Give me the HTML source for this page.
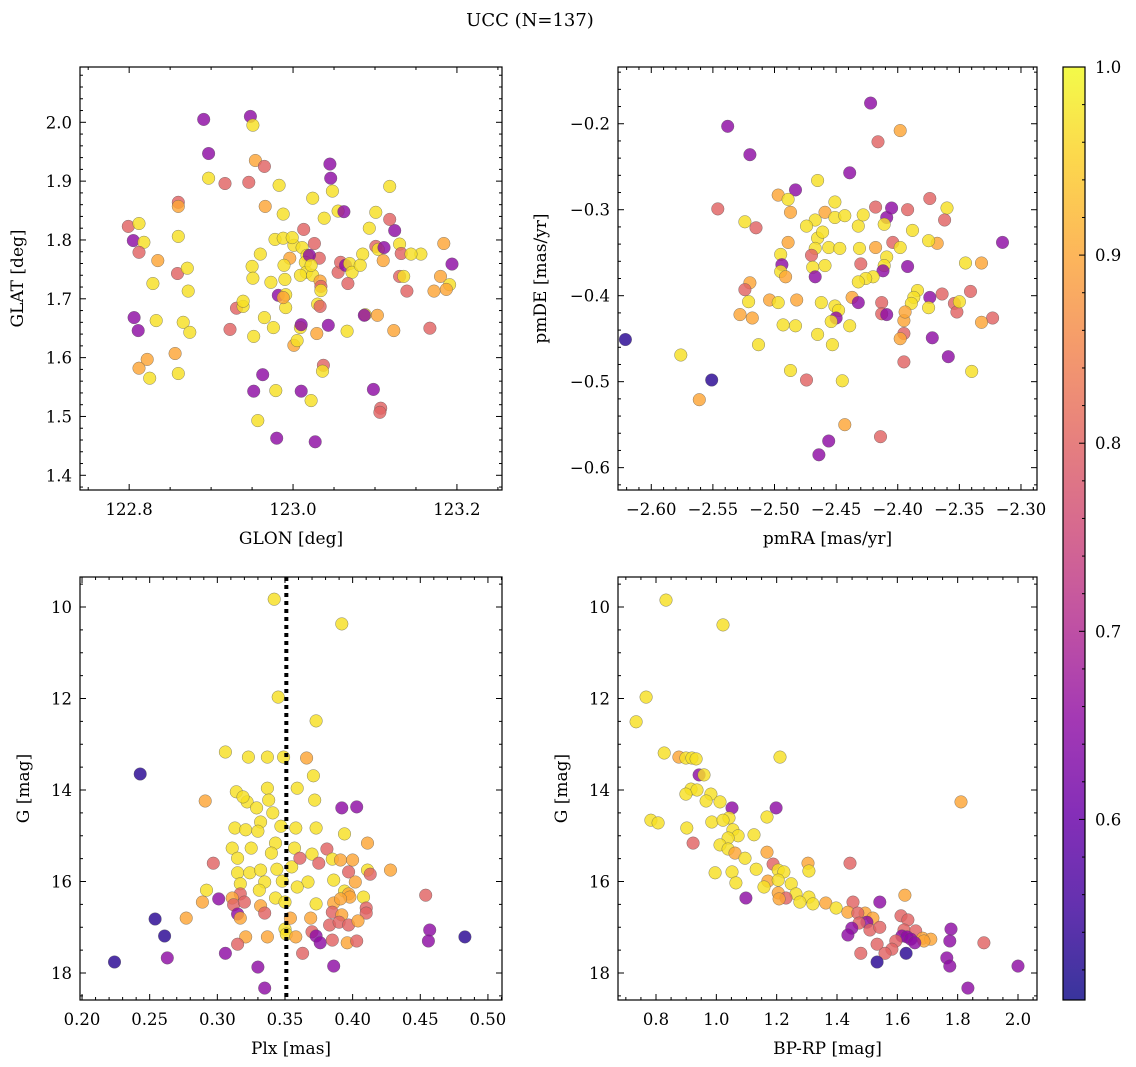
<!DOCTYPE html>
<html><head><meta charset="utf-8"><style>
html,body{margin:0;padding:0;background:#fff;}
svg{display:block;font-family:"DejaVu Serif","Liberation Serif",serif;}
</style></head><body>
<svg id="fig" width="1136" height="1067" viewBox="0 0 1136 1067" xmlns="http://www.w3.org/2000/svg">
<text x="530" y="26" font-size="18" text-anchor="middle">UCC (N=137)</text>
</svg>
<script>
// ---- data (0.97 yellow, 0.9 orange, 0.8 pink, 0.65 purple, 0.53 dark blue) ----
const glonVals=[122.948,122.951,122.891,122.897,122.954,122.965,122.917,122.946,122.897,122.983,123.045,123.046,123.048,123.024,123.118,122.966,122.860,122.860,122.860,122.799,122.812,122.805,122.818,122.812,122.835,122.829,122.859,122.871,122.872,122.806,122.833,122.811,122.866,122.874,122.822,122.856,122.812,122.825,122.860,122.923,122.931,122.939,122.939,122.950,122.951,122.960,122.978,122.973,122.965,122.976,122.952,122.963,122.952,122.979,122.957,122.980,123.027,123.010,123.022,122.988,122.988,123.001,122.999,122.996,122.989,122.990,122.982,122.991,122.991,122.988,123.009,123.001,123.005,123.010,123.013,123.011,123.017,123.015,123.016,123.009,123.024,123.026,123.032,123.020,123.022,123.033,123.034,123.030,123.033,123.029,123.037,123.036,123.034,123.038,123.055,123.062,123.055,123.058,123.064,123.069,123.072,123.067,123.085,123.082,123.088,123.066,123.043,123.087,123.103,123.093,123.101,123.104,123.110,123.111,123.098,123.107,123.106,123.124,123.118,123.101,123.130,123.132,123.130,123.135,123.139,123.123,123.184,123.180,123.156,123.144,123.172,123.167,123.191,123.194,123.187];
const glatVals=[2.010,1.995,2.005,1.947,1.935,1.925,1.896,1.898,1.905,1.893,1.929,1.905,1.883,1.871,1.891,1.857,1.864,1.857,1.806,1.823,1.828,1.799,1.796,1.779,1.765,1.726,1.743,1.752,1.713,1.668,1.663,1.646,1.660,1.643,1.597,1.607,1.582,1.565,1.573,1.648,1.684,1.687,1.696,1.755,1.735,1.776,1.801,1.728,1.668,1.651,1.636,1.571,1.543,1.544,1.493,1.463,1.457,1.543,1.527,1.844,1.803,1.791,1.804,1.769,1.757,1.733,1.706,1.707,1.685,1.702,1.651,1.621,1.629,1.656,1.818,1.787,1.774,1.762,1.745,1.740,1.740,1.794,1.769,1.774,1.757,1.730,1.721,1.691,1.687,1.641,1.587,1.577,1.714,1.837,1.849,1.848,1.745,1.762,1.757,1.760,1.745,1.726,1.776,1.757,1.673,1.645,1.655,1.672,1.672,1.820,1.789,1.784,1.765,1.787,1.546,1.514,1.507,1.816,1.835,1.847,1.793,1.777,1.738,1.738,1.713,1.646,1.794,1.738,1.776,1.776,1.713,1.650,1.724,1.759,1.716];
const posColor=[.65,.97,.65,.65,.9,.8,.8,.8,.97,.97,.65,.65,.97,.97,.97,.9,.8,.9,.97,.8,.97,.65,.97,.8,.9,.97,.8,.97,.97,.65,.97,.65,.97,.97,.9,.9,.9,.97,.97,.8,.8,.97,.97,.97,.97,.97,.97,.97,.97,.97,.97,.65,.65,.97,.97,.65,.65,.65,.97,.97,.97,.97,.97,.9,.97,.97,.65,.97,.97,.9,.97,.9,.97,.65,.8,.97,.97,.97,.97,.97,.97,.8,.8,.65,.97,.9,.8,.97,.8,.9,.8,.97,.97,.97,.97,.65,.8,.8,.65,.97,.97,.8,.97,.97,.97,.97,.65,.65,.9,.97,.8,.97,.9,.65,.65,.8,.8,.65,.8,.97,.97,.8,.8,.97,.8,.9,.9,.9,.97,.97,.9,.8,.97,.65,.9];

const pmraVals=[-2.422,-2.538,-2.416,-2.520,-2.398,-2.439,-2.465,-2.483,-2.546,-2.497,-2.489,-2.524,-2.515,-2.451,-2.459,-2.467,-2.487,-2.474,-2.451,-2.443,-2.432,-2.428,-2.418,-2.409,-2.405,-2.392,-2.411,-2.374,-2.360,-2.362,-2.315,-2.368,-2.375,-2.388,-2.465,-2.489,-2.495,-2.461,-2.467,-2.470,-2.456,-2.447,-2.431,-2.418,-2.404,-2.398,-2.494,-2.495,-2.491,-2.520,-2.524,-2.469,-2.459,-2.467,-2.430,-2.409,-2.411,-2.412,-2.420,-2.426,-2.432,-2.392,-2.345,-2.332,-2.341,-2.354,-2.364,-2.384,-2.387,-2.374,-2.375,-2.389,-2.352,-2.323,-2.332,-2.350,-2.521,-2.504,-2.518,-2.528,-2.482,-2.497,-2.462,-2.451,-2.448,-2.437,-2.432,-2.450,-2.413,-2.413,-2.409,-2.395,-2.395,-2.398,-2.394,-2.439,-2.454,-2.465,-2.453,-2.493,-2.483,-2.513,-2.621,-2.576,-2.551,-2.487,-2.474,-2.445,-2.395,-2.372,-2.359,-2.340,-2.561,-2.443,-2.456,-2.464,-2.414];
const pmdeVals=[-0.176,-0.203,-0.221,-0.236,-0.208,-0.257,-0.266,-0.277,-0.299,-0.283,-0.288,-0.314,-0.321,-0.291,-0.303,-0.312,-0.303,-0.319,-0.309,-0.307,-0.319,-0.306,-0.297,-0.309,-0.298,-0.300,-0.317,-0.287,-0.298,-0.312,-0.338,-0.339,-0.336,-0.324,-0.333,-0.338,-0.352,-0.326,-0.345,-0.353,-0.344,-0.345,-0.345,-0.344,-0.338,-0.344,-0.364,-0.372,-0.378,-0.385,-0.393,-0.367,-0.365,-0.378,-0.363,-0.355,-0.365,-0.371,-0.378,-0.380,-0.384,-0.366,-0.362,-0.362,-0.395,-0.409,-0.398,-0.394,-0.402,-0.402,-0.414,-0.409,-0.419,-0.426,-0.431,-0.407,-0.407,-0.405,-0.426,-0.422,-0.405,-0.408,-0.408,-0.412,-0.417,-0.402,-0.408,-0.426,-0.408,-0.421,-0.422,-0.429,-0.444,-0.450,-0.419,-0.435,-0.430,-0.445,-0.457,-0.434,-0.435,-0.457,-0.451,-0.469,-0.498,-0.487,-0.498,-0.499,-0.477,-0.449,-0.471,-0.488,-0.521,-0.550,-0.569,-0.585,-0.564];
const pmColor=[.65,.65,.8,.65,.9,.65,.97,.65,.8,.9,.97,.97,.8,.97,.9,.97,.9,.97,.97,.97,.97,.97,.8,.65,.65,.8,.97,.8,.97,.8,.65,.9,.97,.97,.97,.9,.97,.97,.97,.8,.97,.97,.97,.9,.8,.97,.65,.97,.9,.9,.8,.97,.97,.65,.8,.97,.97,.65,.97,.97,.97,.65,.97,.9,.8,.8,.8,.97,.97,.65,.97,.97,.8,.8,.9,.97,.97,.9,.9,.9,.9,.97,.97,.97,.97,.9,.65,.65,.8,.8,.65,.9,.8,.9,.9,.97,.97,.97,.97,.97,.97,.97,.53,.97,.53,.97,.8,.97,.8,.65,.65,.97,.9,.9,.65,.65,.8];

const plxVals=[0.342,0.392,0.345,0.373,0.306,0.323,0.337,0.349,0.366,0.371,0.243,0.314,0.337,0.359,0.322,0.319,0.291,0.329,0.338,0.341,0.372,0.392,0.403,0.332,0.313,0.321,0.330,0.347,0.358,0.373,0.394,0.343,0.411,0.297,0.311,0.315,0.325,0.340,0.357,0.381,0.370,0.385,0.391,0.400,0.315,0.324,0.332,0.344,0.355,0.361,0.375,0.397,0.411,0.413,0.428,0.317,0.335,0.348,0.367,0.386,0.402,0.292,0.317,0.331,0.343,0.359,0.394,0.397,0.408,0.311,0.289,0.301,0.312,0.320,0.332,0.350,0.373,0.386,0.398,0.410,0.454,0.391,0.315,0.317,0.335,0.354,0.369,0.385,0.392,0.410,0.277,0.254,0.350,0.351,0.383,0.390,0.397,0.404,0.370,0.457,0.261,0.321,0.337,0.358,0.373,0.315,0.376,0.385,0.396,0.403,0.456,0.483,0.306,0.363,0.263,0.224,0.330,0.386,0.335];
const gPlxVals=[9.83,10.37,11.97,12.49,13.17,13.28,13.28,13.28,13.30,13.69,13.65,14.04,13.96,13.96,14.26,14.15,14.24,14.39,14.22,14.50,14.22,14.39,14.37,14.70,14.83,14.87,14.90,14.79,14.83,14.83,14.96,15.16,15.16,15.60,15.27,15.49,15.27,15.38,15.27,15.29,15.40,15.51,15.53,15.53,15.81,15.81,15.75,15.73,15.68,15.49,15.60,15.79,15.75,15.84,15.75,16.05,16.01,15.99,16.01,15.97,16.01,16.19,16.27,16.19,16.36,16.12,16.21,16.27,16.34,16.36,16.45,16.38,16.51,16.45,16.53,16.45,16.49,16.47,16.34,16.58,16.30,16.38,16.71,16.80,16.69,16.80,16.80,16.67,16.73,16.69,16.80,16.82,17.04,17.15,16.95,16.89,16.95,16.86,17.10,17.06,17.19,17.21,17.21,17.21,17.19,17.37,17.34,17.28,17.34,17.30,17.30,17.21,17.57,17.57,17.67,17.76,17.87,17.85,18.33];
const plxColor=[.97,.97,.97,.97,.97,.97,.97,.97,.9,.97,.53,.97,.97,.97,.97,.97,.9,.97,.97,.97,.97,.65,.65,.97,.97,.97,.97,.97,.97,.97,.97,.97,.9,.8,.97,.97,.97,.97,.97,.8,.97,.97,.9,.9,.97,.97,.97,.97,.97,.8,.8,.8,.97,.8,.9,.97,.97,.97,.97,.97,.9,.97,.8,.97,.97,.97,.97,.9,.97,.9,.9,.65,.8,.8,.9,.97,.97,.9,.9,.8,.8,.9,.65,.9,.8,.9,.9,.8,.9,.8,.9,.53,.97,.97,.8,.8,.8,.9,.8,.65,.53,.9,.9,.9,.65,.8,.65,.8,.9,.8,.65,.53,.65,.8,.65,.53,.65,.65,.65];
const plxCenter=0.351;

const bprpVals=[0.833,1.022,0.767,0.734,0.827,0.876,0.899,0.919,0.933,1.211,0.943,0.959,0.916,0.936,0.899,0.982,0.966,1.012,1.052,1.198,1.042,1.168,0.783,0.807,0.902,0.985,1.022,1.055,1.072,1.039,1.125,1.012,0.923,1.039,1.062,1.168,1.095,1.188,1.304,1.443,0.996,1.052,1.132,1.205,1.224,1.307,1.065,1.171,1.205,1.158,1.248,1.625,1.098,1.205,1.264,1.231,1.208,1.307,1.277,1.320,1.363,1.453,1.542,1.397,1.436,1.493,1.519,1.469,1.612,1.635,1.499,1.473,1.449,1.509,1.542,1.622,1.661,1.778,1.436,1.615,1.632,1.645,1.684,1.711,1.688,1.595,1.533,1.658,1.774,1.887,1.582,1.479,1.559,1.629,1.764,1.533,1.774,2.000,1.834,1.811];
const gCmdVals=[9.85,10.39,11.97,12.51,13.19,13.28,13.30,13.30,13.32,13.28,13.67,13.67,13.98,14.00,14.09,14.09,14.24,14.26,14.39,14.39,14.61,14.59,14.66,14.72,14.83,14.70,14.66,14.87,15.00,15.05,14.98,15.20,15.16,15.29,15.38,15.36,15.49,15.62,15.60,15.60,15.81,15.79,15.73,15.75,15.79,15.77,16.03,15.99,15.97,16.12,16.05,16.30,16.36,16.25,16.27,16.36,16.38,16.34,16.45,16.49,16.47,16.45,16.45,16.58,16.67,16.69,16.80,16.69,16.75,16.84,16.89,16.91,17.02,17.06,17.00,17.06,17.08,17.04,17.17,17.19,17.21,17.26,17.24,17.26,17.30,17.30,17.37,17.34,17.30,17.34,17.48,17.57,17.57,17.57,17.67,17.76,17.85,17.85,18.33,14.26];
const cmdColor=[.97,.97,.97,.97,.97,.9,.97,.97,.97,.97,.65,.97,.97,.97,.97,.97,.97,.97,.65,.65,.97,.97,.97,.97,.97,.97,.97,.97,.97,.97,.97,.97,.8,.97,.9,.9,.97,.8,.9,.8,.97,.97,.97,.97,.97,.97,.97,.9,.97,.97,.97,.9,.65,.9,.97,.8,.9,.97,.97,.97,.9,.8,.65,.97,.9,.9,.9,.8,.8,.8,.65,.8,.65,.8,.8,.8,.8,.65,.65,.65,.65,.65,.9,.9,.9,.8,.8,.65,.65,.8,.8,.8,.8,.53,.65,.53,.65,.65,.65,.9];

const xt1=[122.8,123.0,123.2], yt1=[1.4,1.5,1.6,1.7,1.8,1.9,2.0];
const xt2=[-2.60,-2.55,-2.50,-2.45,-2.40,-2.35,-2.30], yt2=[-0.6,-0.5,-0.4,-0.3,-0.2];
const xt3=[0.20,0.25,0.30,0.35,0.40,0.45,0.50], ytG=[10,12,14,16,18];
const xt4=[0.8,1.0,1.2,1.4,1.6,1.8,2.0];
const cbTicks=[0.6,0.7,0.8,0.9,1.0];

// ---- rendering ----
const NS='http://www.w3.org/2000/svg';
const svg=document.getElementById('fig');
function el(tag,attrs,parent){const e=document.createElementNS(NS,tag);for(const k in attrs)e.setAttribute(k,attrs[k]);(parent||svg).appendChild(e);return e;}
const CMIN=0.504,CMAX=1.0;
const plasma=[[13,8,135],[65,4,157],[106,0,168],[143,13,164],[177,42,144],[204,71,120],[225,100,98],[242,132,75],[252,166,54],[252,206,37],[240,249,33]];
function cmap(c){let t=(c-CMIN)/(CMAX-CMIN);t=Math.max(0,Math.min(1,t))*10;const i=Math.min(9,Math.floor(t)),f=t-i;const a=plasma[i],b=plasma[i+1];return 'rgb('+[0,1,2].map(k=>Math.round(a[k]+(b[k]-a[k])*f)).join(',')+')';}
function fmt(v,d){const s=Math.abs(v).toFixed(d);return (v<0?'\u2212':'')+s;}

function panel(o){
  const g=el('g',{});
  
  
  const sx=v=>o.L+(v-o.xd[0])/(o.xd[1]-o.xd[0])*(o.R-o.L);
  const sy=v=>o.T+(v-o.yd[0])/(o.yd[1]-o.yd[0])*(o.B-o.T);
  const clip='clip-'+o.name;
  const cp=el('clipPath',{id:clip},g);el('rect',{x:o.L,y:o.T,width:o.R-o.L,height:o.B-o.T},cp);
  const pts=el('g',{'clip-path':'url(#'+clip+')'},g);
  for(let i=0;i<o.xs.length;i++){
    const c=el('circle',{cx:sx(o.xs[i]).toFixed(1),cy:sy(o.ys[i]).toFixed(1),r:6.3,fill:cmap(o.cs[i]),'fill-opacity':0.82,stroke:'#555','stroke-width':0.5,'stroke-opacity':0.7},pts);
    
    
  }
  if(o.vline!==undefined){const l=el('line',{x1:sx(o.vline),x2:sx(o.vline),y1:o.T,y2:o.B,stroke:'#000','stroke-width':4,'stroke-dasharray':'4 4'},pts);
    }
  const box=el('rect',{x:o.L,y:o.T,width:o.R-o.L,height:o.B-o.T,fill:'none',stroke:'#000','stroke-width':1.2},g);
  
  function minors(d,step,majors){const out=[];const lo=Math.min(d[0],d[1]),hi=Math.max(d[0],d[1]);for(let k=Math.ceil(lo/step-1e-6);k*step<=hi+1e-9;k++){const v=k*step;if(!majors.some(m=>Math.abs(m-v)<step*0.1))out.push(v);}return out;}
  const tk=el('g',{stroke:'#000','stroke-width':1},g);
  o.xt.forEach(v=>{const x=sx(v);el('line',{x1:x,x2:x,y1:o.B,y2:o.B-6},tk);el('line',{x1:x,x2:x,y1:o.T,y2:o.T+6},tk);
    const t=el('text',{x:x,y:o.B+25,'font-size':16.5,'text-anchor':'middle',stroke:'none',fill:'#000'},g);t.textContent=fmt(v,o.xdp);
    });
  minors(o.xd,o.xm,o.xt).forEach(v=>{const x=sx(v);el('line',{x1:x,x2:x,y1:o.B,y2:o.B-3},tk);el('line',{x1:x,x2:x,y1:o.T,y2:o.T+3},tk);});
  o.yt.forEach(v=>{const y=sy(v);el('line',{x1:o.L,x2:o.L+6,y1:y,y2:y},tk);el('line',{x1:o.R,x2:o.R-6,y1:y,y2:y},tk);
    const t=el('text',{x:o.L-8,y:y+6,'font-size':16.5,'text-anchor':'end',stroke:'none',fill:'#000'},g);t.textContent=fmt(v,o.ydp);
    });
  minors(o.yd,o.ym,o.yt).forEach(v=>{const y=sy(v);el('line',{x1:o.L,x2:o.L+3,y1:y,y2:y},tk);el('line',{x1:o.R,x2:o.R-3,y1:y,y2:y},tk);});
  const xl=el('text',{x:(o.L+o.R)/2,y:o.B+54,'font-size':17,'text-anchor':'middle'},g);xl.textContent=o.xlab;
  
  const ylx=o.ylx;const ycy=(o.T+o.B)/2;
  const yl=el('text',{x:ylx,y:ycy,'font-size':17,'text-anchor':'middle',transform:'rotate(-90 '+ylx+' '+ycy+')'},g);yl.textContent=o.ylab;
  
}

panel({name:'sky-position-panel',L:80,R:502,T:67,B:490,xd:[122.740,123.255],yd:[2.094,1.375],xs:glonVals,ys:glatVals,cs:posColor,xt:xt1,xm:0.05,xdp:1,yt:yt1,ym:0.02,ydp:1,xlab:'GLON [deg]',ylab:'GLAT [deg]',ylx:23});
panel({name:'proper-motion-panel',L:618,R:1037,T:67,B:490,xd:[-2.627,-2.287],yd:[-0.134,-0.626],xs:pmraVals,ys:pmdeVals,cs:pmColor,xt:xt2,xm:0.01,xdp:2,yt:yt2,ym:0.02,ydp:1,xlab:'pmRA [mas/yr]',ylab:'pmDE [mas/yr]',ylx:546});
panel({name:'parallax-panel',L:80,R:502,T:577,B:1000,xd:[0.1985,0.5104],yd:[9.344,18.59],xs:plxVals,ys:gPlxVals,cs:plxColor,xt:xt3,xm:0.01,xdp:2,yt:ytG,ym:0.5,ydp:0,xlab:'Plx [mas]',ylab:'G [mag]',ylx:29,vline:plxCenter});
panel({name:'cmd-panel',L:618,R:1037,T:577,B:1000,xd:[0.674,2.063],yd:[9.344,18.59],xs:bprpVals,ys:gCmdVals,cs:cmdColor,xt:xt4,xm:0.05,xdp:1,yt:ytG,ym:0.5,ydp:0,xlab:'BP-RP [mag]',ylab:'G [mag]',ylx:567});

// colorbar
(function(){
  const L=1063,R=1085,T=67,B=1000;
  const g=el('g',{});
  
  
  const defs=el('defs',{},g);
  const lg=el('linearGradient',{id:'cbgrad',x1:0,y1:1,x2:0,y2:0},defs);
  for(let i=0;i<=20;i++){const c=CMIN+(CMAX-CMIN)*i/20;el('stop',{offset:(i/20),'stop-color':cmap(c)},lg);}
  el('rect',{x:L,y:T,width:R-L,height:B-T,fill:'url(#cbgrad)','fill-opacity':0.82},g);
  el('rect',{x:L,y:T,width:R-L,height:B-T,fill:'none',stroke:'#000','stroke-width':1.2},g);
  const sy=v=>T+(CMAX-v)/(CMAX-CMIN)*(B-T);
  cbTicks.forEach(v=>{const y=sy(v);el('line',{x1:R,x2:R-6,y1:y,y2:y,stroke:'#000','stroke-width':1},g);
    const t=el('text',{x:R+10,y:y+6,'font-size':16.5},g);t.textContent=v.toFixed(1);
    });
  for(let k=26;k<=50;k++){const v=k*0.02;if(v<CMIN||Math.round(v*100)%10===0)continue;const y=sy(v);el('line',{x1:R,x2:R-3,y1:y,y2:y,stroke:'#000','stroke-width':1},g);}
})();
</script>
</body></html>
